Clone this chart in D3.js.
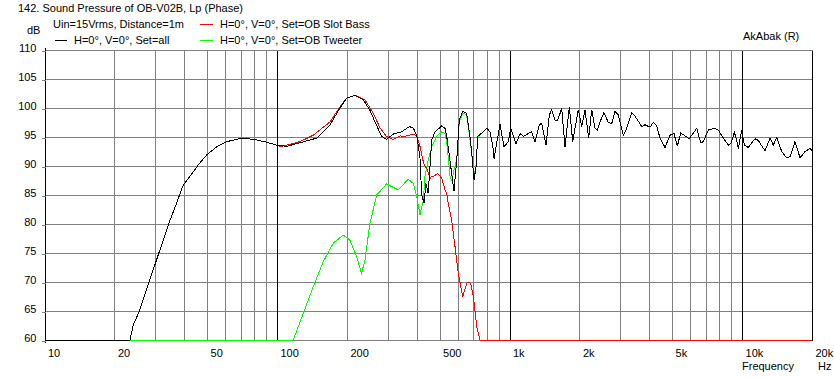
<!DOCTYPE html>
<html><head><meta charset="utf-8">
<script src="https://cdn.jsdelivr.net/npm/d3@7/dist/d3.min.js"></script>
<style>
html,body{margin:0;padding:0;background:#fff;}
svg{display:block;}
text{font-family:"Liberation Sans",Arial,sans-serif;font-size:11px;fill:#000;}
</style></head>
<body>
<svg id="chart" width="834" height="377"></svg>
<script>
// ---- data ----
const allFreq = [10, 23.3, 24.1, 25.6, 28, 32.4, 34.7, 37, 39.5, 42.2, 45.9, 49.8, 55, 60.8, 67.1, 71.6, 81.8, 90.3, 99.7, 110, 125.6, 148, 169, 186.6, 199.5, 216.5, 235, 251, 268, 282, 296, 316, 344, 371, 386, 399, 412, 419, 429, 437, 447, 463, 478, 511, 528, 540, 564, 577, 593, 608, 629, 654, 676, 688, 704, 718, 730, 771, 798, 824, 847, 858, 910, 947, 988, 1012, 1038, 1066, 1110, 1147, 1205, 1246, 1287, 1343, 1375, 1436, 1483, 1519, 1569, 1612, 1677, 1733, 1808, 1870, 1919, 1976, 2044, 2112, 2191, 2257, 2332, 2386, 2450, 2549, 2661, 2751, 2843, 2938, 3086, 3192, 3355, 3466, 3703, 3826, 4021, 4154, 4297, 4440, 4666, 4901, 5099, 5269, 5449, 5741, 5934, 6386, 6643, 6815, 7163, 7655, 7910, 8311, 8733, 8968, 9266, 9489, 9641, 9970, 10230, 10640, 11370, 11750, 12560, 13200, 13630, 14100, 14820, 15570, 16090, 16900, 17770, 18660, 19610, 20000];
const allDb = [60, 60, 62.6, 65, 69.7, 77.2, 80.7, 83.6, 86.7, 88.2, 90.2, 91.9, 93.3, 94.2, 94.6, 94.8, 94.5, 94.1, 93.6, 93.4, 94, 94.8, 97.1, 100, 101.7, 102.2, 101.4, 99.6, 97, 95.1, 94.6, 95.5, 95.9, 96.8, 96.5, 95.3, 91.5, 85, 83.6, 87, 85.3, 94.5, 95.9, 96.9, 96.5, 94.5, 88.7, 85.7, 91, 97.9, 99.4, 99.1, 95.1, 92.2, 87.6, 89.9, 95.1, 95.9, 96.5, 95.9, 93.6, 91.3, 97.2, 93.3, 94.2, 96.5, 95.2, 93.8, 95.6, 95.1, 95.6, 95.9, 94.2, 97.1, 97.4, 93.6, 98.8, 99.7, 97.9, 97.9, 99.9, 93.3, 100.2, 94.2, 96.8, 99.7, 96.8, 99.7, 94.8, 99.7, 96.5, 96.2, 97.6, 99.2, 97.5, 97.3, 99.4, 98.8, 95.3, 96.5, 99.2, 98.6, 96.8, 97.1, 96.7, 97.5, 96.9, 94.8, 93.2, 95.3, 95.6, 93.4, 95.7, 95.1, 94.7, 96.5, 94, 94.2, 96.2, 96.5, 96.2, 94.8, 93.6, 93.9, 95.8, 94.5, 93, 96.2, 93.6, 93.2, 94.7, 94.4, 92.6, 94.8, 93.6, 94.9, 92.5, 91.4, 91.6, 94.2, 91.4, 92.5, 93, 92.7];

const bassFreq = [100, 104.8, 125.6, 143, 169, 186.6, 199.5, 216.5, 239, 259.5, 277, 296, 306, 316, 338, 355, 386, 399, 412, 427, 441, 456, 463, 475, 491, 511, 528, 537, 545, 564, 583, 602, 629, 658, 681, 699, 723, 746, 20000];
const bassDb = [93.5, 93.4, 94.2, 95.3, 97.6, 100.2, 101.7, 102.2, 101.4, 99.1, 96.6, 95.1, 94.8, 94.6, 95.2, 95.1, 95.5, 95.2, 93.4, 90.5, 89.5, 87.9, 88.2, 88.3, 88.7, 87.9, 85.9, 85.3, 83.6, 80.7, 76.1, 71.5, 67.5, 69.9, 69.8, 67.5, 62.3, 60, 60];

const tweetFreq = [10, 117.5, 129.7, 143.2, 158.1, 174.6, 192.8, 206, 220, 231, 239, 251, 268.5, 296, 332, 367, 386, 399, 412, 426, 433, 447, 463, 486, 511, 528, 540, 555, 564, 593, 608, 629, 654, 676, 688, 704, 718, 730, 771, 798, 824, 847, 858, 910, 947, 988, 1012];
const tweetDb = [60, 60, 64.6, 69.2, 73.5, 76.7, 78.1, 77.2, 74.4, 71.5, 73.8, 80.1, 85, 86.9, 85.9, 87.7, 87, 84.7, 81.6, 84.1, 88.2, 91, 93.3, 95.1, 95.9, 95.6, 93.3, 88.2, 87.5, 91.3, 97.5, 99.2, 98.8, 94.6, 92.0, 88.0, 90.2, 95.0, 95.9, 96.5, 95.9, 93.6, 91.3, 97.2, 93.3, 94.2, 96.5];

const xTickValues = [10, 20, 50, 100, 200, 500, 1000, 2000, 5000, 10000, 20000];
const xTickLabels = ["10", "20", "50", "100", "200", "500", "1k", "2k", "5k", "10k", "20k"];
const yTickValues = [60, 65, 70, 75, 80, 85, 90, 95, 100, 105, 110];

const titleText = "142. Sound Pressure of OB-V02B, Lp (Phase)";
const infoText = "Uin=15Vrms, Distance=1m";
const seriesNames = ["H=0°, V=0°, Set=all", "H=0°, V=0°, Set=OB Slot Bass", "H=0°, V=0°, Set=OB Tweeter"];
const seriesColors = ["#000000", "#ff0000", "#00ff00"];

// ---- chart ----
const svg = d3.select("#chart");
const x = d3.scaleLog().domain([10, 20000]).range([44.5, 812]);
const y = d3.scaleLinear().domain([60, 110]).range([340, 50]);
const px = v => Math.round(x(v)) + 0.5;
const py = v => Math.round(y(v)) + 0.5;

const grid = svg.append("g").attr("shape-rendering", "crispEdges");
// gridline frequencies
const gridF = [];
[10, 100, 1000, 10000].forEach(d => { for (let m = 1; m <= 9; m++) { const v = d * m; if (v <= 20000) gridF.push(v); } });
gridF.push(20000);
const isMajor = v => [10, 100, 1000, 10000, 20000].includes(v);

// horizontal gridlines
grid.selectAll("line.h").data(yTickValues).enter().append("line")
  .attr("x1", px(10)).attr("x2", px(20000))
  .attr("y1", d => py(d)).attr("y2", d => py(d))
  .attr("stroke", "#808080");
// minor vertical
grid.selectAll("line.vm").data(gridF.filter(v => !isMajor(v))).enter().append("line")
  .attr("x1", d => px(d)).attr("x2", d => px(d))
  .attr("y1", py(110)).attr("y2", py(60))
  .attr("stroke", "#808080");
// major vertical
grid.selectAll("line.vM").data(gridF.filter(v => isMajor(v) && v !== 10)).enter().append("line")
  .attr("x1", d => px(d)).attr("x2", d => px(d))
  .attr("y1", py(110)).attr("y2", py(60))
  .attr("stroke", "#000");
// left axis
grid.append("line").attr("x1", px(10)).attr("x2", px(10)).attr("y1", py(110) - 3).attr("y2", py(60) + 2).attr("stroke", "#000");

// y axis ticks + labels
const yAxis = d3.axisLeft(y).tickValues(yTickValues).tickSize(4).tickSizeOuter(0).tickPadding(5);
const yg = svg.append("g").attr("transform", `translate(${px(10)},0.5)`).call(yAxis);
yg.select(".domain").remove();
yg.selectAll(".tick line").attr("stroke", "#808080").attr("shape-rendering", "crispEdges");
yg.selectAll(".tick text").attr("font-family", null).attr("font-size", null).attr("dy", "0.05em").style("fill", "#000");
yg.attr("font-family", null).attr("font-size", null);

// x axis labels
const xAxis = d3.axisBottom(x).tickValues(xTickValues).tickFormat((d, i) => xTickLabels[i]).tickSize(0).tickPadding(9);
const xg = svg.append("g").attr("transform", `translate(0,${py(60)})`).call(xAxis);
xg.select(".domain").remove();
xg.selectAll(".tick text").attr("text-anchor", "start").attr("dx", 3).style("fill", "#000");
xg.attr("font-family", null).attr("font-size", null);

// curves
const series = [
  {f: tweetFreq, v: tweetDb, c: seriesColors[2]},
  {f: bassFreq, v: bassDb, c: seriesColors[1]},
  {f: allFreq, v: allDb, c: seriesColors[0]}
];
const line = d3.line().x(d => x(d[0])).y(d => y(d[1]));
series.forEach(s => {
  svg.append("path")
    .datum(s.f.map((f, i) => [f, s.v[i]]))
    .attr("d", line)
    .attr("fill", "none")
    .attr("stroke", s.c)
    .attr("stroke-width", 1)
    .attr("shape-rendering", "crispEdges");
});

// texts
svg.append("text").attr("x", 18).attr("y", 12).text(titleText);
svg.append("text").attr("x", 53).attr("y", 28).text(infoText);
svg.append("text").attr("x", 27).attr("y", 34).text("dB");
svg.append("text").attr("x", 743).attr("y", 40).text("AkAbak (R)");
svg.append("text").attr("x", 742).attr("y", 370).text("Frequency");
svg.append("text").attr("x", 818).attr("y", 370).text("Hz");

// legend
const legend = [
  {x1: 55, x2: 67, y: 40.5, tx: 74, ty: 44, name: seriesNames[0], c: seriesColors[0]},
  {x1: 200, x2: 213, y: 24.5, tx: 220, ty: 28, name: seriesNames[1], c: seriesColors[1]},
  {x1: 200, x2: 213, y: 40.5, tx: 220, ty: 44, name: seriesNames[2], c: seriesColors[2]}
];
legend.forEach(l => {
  svg.append("line").attr("x1", l.x1).attr("x2", l.x2).attr("y1", l.y).attr("y2", l.y)
    .attr("stroke", l.c).attr("shape-rendering", "crispEdges");
  svg.append("text").attr("x", l.tx).attr("y", l.ty).text(l.name);
});
</script>
</body></html>
